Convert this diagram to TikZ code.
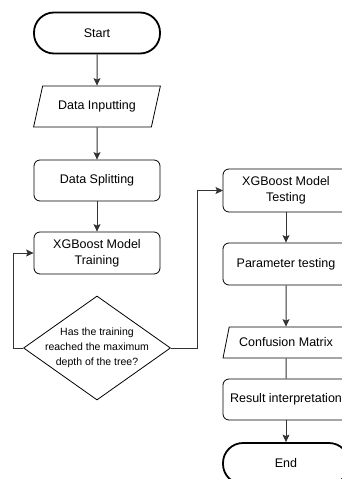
\documentclass[tikz,border=0pt]{standalone}
\usepackage{fontspec}
\setmainfont{Liberation Sans}
\usetikzlibrary{arrows.meta,shapes.geometric}
\definecolor{flowDark}{HTML}{000000}
\definecolor{lineGrey}{HTML}{333333}
\tikzset{
  >={Stealth[length=7.5pt,width=7pt,inset=1.5pt]},
  flow/.style={->, draw=lineGrey, line width=1pt},
  plainLink/.style={draw=lineGrey, line width=1pt},
  terminal/.style={draw=flowDark, line width=1.8pt, fill=white, rounded corners=20pt,
                   minimum width=126pt, minimum height=41pt, inner sep=0pt,
                   font=\fontsize{12.5}{16}\selectfont, align=center},
  process/.style={draw=flowDark, line width=0.8pt, fill=white, rounded corners=6pt,
                  minimum width=126pt, minimum height=41pt, inner sep=0pt,
                  font=\fontsize{12.5}{16}\selectfont, align=center},
  inputBox/.style={trapezium, trapezium left angle=61, trapezium right angle=119,
                   trapezium stretches=true, draw=flowDark, line width=0.8pt, fill=white,
                   inner xsep=0pt, inner ysep=0pt, minimum width=127pt,
                   font=\fontsize{12.5}{16}\selectfont},
  decision/.style={diamond, draw=flowDark, line width=0.8pt, fill=white, aspect=1.41,
                   inner xsep=-12pt, inner ysep=-7.5pt, minimum width=147pt, minimum height=104pt,
                   font=\fontsize{10.5}{15}\selectfont, align=center}
}

\begin{document}
\begin{tikzpicture}[x=1pt,y=-1pt]
\useasboundingbox (0,0) rectangle (342,479);
\clip (0,0) rectangle (342,479);

% ------------------------------------------------------------
% LEFT: training column
% ------------------------------------------------------------
\node[terminal] (start) at (97,33) {Start};
\node[inputBox, minimum height=41pt] (input) at (97,106.5) {Data Inputting};
\node[process] (split) at (97,180.5) {Data Splitting};
\node[process, minimum height=42pt] (train) at (97,253) {XGBoost Model\\Training};
\node[decision] (depth) at (97,348)
{Has the training\\reached the maximum\\depth of the tree?};

\draw[flow] (start) -- (input);
\draw[flow] (input) -- (split);
\draw[flow] (split) -- (train);

% loop back / go on
\coordinate (loopL) at (13,348);
\coordinate (loopR) at (197,348);
\draw[flow] (depth.west) -- (loopL) |- (train.west);
\draw[flow] (depth.east) -- (loopR) |- (286-63,190.5);

% ------------------------------------------------------------
% RIGHT: testing column
% ------------------------------------------------------------
\node[process, minimum height=43pt] (test) at (286,190.5) {XGBoost Model\\Testing};
\node[process, minimum height=42pt] (param) at (286,264) {Parameter testing};
\node[inputBox, minimum height=31pt, minimum width=126pt] (matrix) at (286,342.5) {Confusion Matrix};
\node[process] (interp) at (286,399.5) {Result interpretation};
\node[terminal] (finish) at (286,463.5) {End};

\draw[flow] (test) -- (param);
\draw[flow] (param) -- (matrix);
\draw[plainLink] (matrix) -- (interp);
\draw[flow] (interp) -- (finish);

\end{tikzpicture}
\end{document}
